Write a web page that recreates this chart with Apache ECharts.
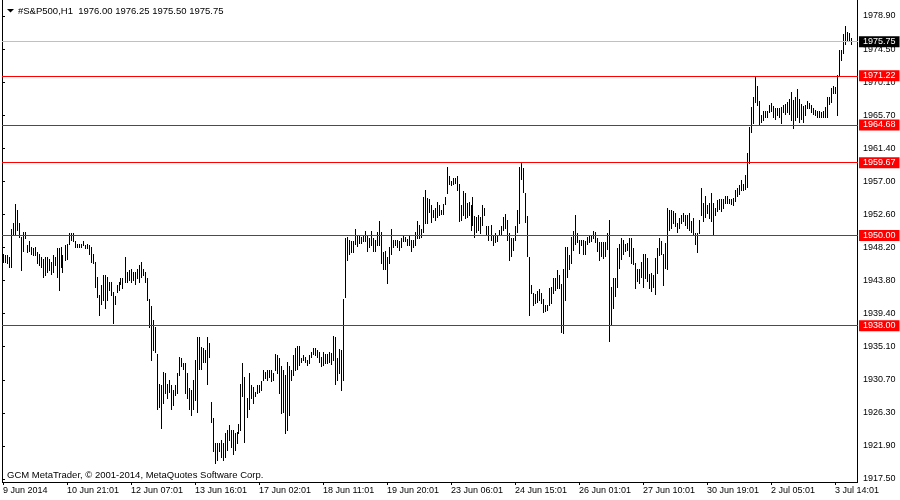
<!DOCTYPE html>
<html>
<head>
<meta charset="utf-8">
<script src="https://cdn.jsdelivr.net/npm/echarts@6/dist/echarts.min.js"></script>
<style>
html,body{margin:0;padding:0;background:#fff;}
#chart{width:900px;height:500px;}
</style>
</head>
<body>
<div id="chart"></div>
<script>
// ---- data ----
const symbolName = '#S&P500,H1';
const lastBarOHLC = [1976.00, 1976.25, 1975.50, 1975.75];
const footerText = 'GCM MetaTrader, \u00A9 2001-2014, MetaQuotes Software Corp.';
const xTickLabels = ['9 Jun 2014','10 Jun 21:01','12 Jun 07:01','13 Jun 16:01','17 Jun 02:01','18 Jun 11:01','19 Jun 20:01','23 Jun 06:01','24 Jun 15:01','26 Jun 01:01','27 Jun 10:01','30 Jun 19:01','2 Jul 05:01','3 Jul 14:01'];
const barsPerTickLabel = 32;
const yTickLabels = ['1917.50','1921.90','1926.30','1930.70','1935.10','1939.40','1943.80','1948.20','1952.60','1957.00','1961.40','1965.70','1970.10','1974.50','1978.90'];
const levelLines = [1971.22, 1964.68, 1959.67, 1950.00, 1938.00];
const bidLine = 1975.75;

const highs = [
1947.6,1947.4,1947.4,1947.2,1950.9,1951.6,1954.2,1953.4,1951.6,1949.8,
1950.5,1950.5,1948.7,1949.2,1948.5,1948.3,1948.5,1947.8,1947.6,1947.2,
1946.9,1947.2,1947.2,1946.9,1946.5,1947.4,1947.2,1948.3,1948.3,1948.5,
1947.4,1948.7,1948.9,1950.3,1950.3,1950.3,1949.2,1948.9,1948.9,1948.9,
1949.2,1948.7,1948.9,1948.7,1948.5,1947.6,1946.5,1944.5,1942.1,1943.4,
1944.7,1944.7,1944.5,1943.8,1943.8,1942.5,1941.9,1943.4,1943.8,1944.3,
1944.3,1947.2,1945.2,1945.4,1945.6,1945.2,1945.2,1945.6,1946.1,1946.5,
1945.6,1945.2,1944.3,1941.6,1940.6,1938.8,1937.9,1934.3,1930.3,1930.1,
1931.9,1931.7,1930.3,1930.8,1930.1,1929.5,1930.1,1931.7,1933.9,1933.7,
1933.0,1933.0,1931.7,1929.7,1929.5,1930.8,1933.4,1936.5,1936.5,1935.2,
1935.0,1934.8,1936.5,1935.7,1927.9,1925.7,1922.4,1922.4,1922.4,1922.8,
1922.4,1923.7,1924.1,1924.8,1924.1,1924.1,1923.7,1923.9,1925.0,1930.3,
1933.0,1931.2,1928.4,1931.7,1930.1,1929.9,1929.2,1930.1,1930.1,1930.6,
1932.1,1931.9,1932.1,1932.1,1932.1,1931.7,1934.3,1934.1,1933.7,1932.6,
1932.1,1931.4,1933.2,1932.6,1932.1,1934.1,1935.0,1935.3,1935.3,1933.7,
1934.1,1933.9,1933.4,1934.1,1934.5,1935.0,1935.0,1934.8,1934.5,1933.9,
1934.5,1934.3,1934.3,1934.5,1934.4,1936.6,1936.5,1933.7,1934.9,1934.8,
1941.6,1949.6,1949.8,1949.4,1949.2,1949.2,1950.8,1950.0,1949.9,1949.8,
1950.0,1950.6,1950.0,1949.6,1950.6,1949.6,1949.4,1950.4,1951.9,1950.5,
1947.8,1948.0,1947.2,1948.4,1950.8,1949.4,1949.4,1949.4,1949.2,1949.6,
1949.9,1949.8,1949.5,1949.9,1949.4,1949.4,1950.4,1951.9,1951.4,1950.9,
1955.1,1956.1,1955.0,1954.8,1954.0,1953.4,1953.6,1954.5,1954.0,1953.4,
1954.2,1955.1,1959.1,1957.9,1957.3,1957.7,1957.7,1957.9,1956.8,1954.0,
1955.9,1955.6,1954.3,1954.5,1954.0,1955.1,1952.6,1952.5,1952.7,1952.5,
1954.1,1953.7,1951.2,1951.3,1951.4,1950.1,1950.3,1950.0,1950.7,1951.2,
1952.5,1952.8,1952.0,1950.3,1949.7,1949.6,1951.2,1953.4,1959.1,1959.7,
1958.9,1955.7,1952.6,1947.2,1943.4,1942.4,1942.2,1942.6,1942.9,1942.4,
1941.5,1940.8,1940.8,1943.0,1943.2,1944.3,1944.3,1945.4,1944.8,1943.6,
1945.6,1948.4,1948.5,1947.4,1949.8,1950.6,1952.7,1950.3,1949.4,1949.4,
1949.4,1949.2,1949.8,1950.0,1950.0,1950.6,1950.4,1949.6,1949.1,1949.1,
1949.1,1949.1,1950.3,1952.1,1943.2,1944.4,1944.3,1948.3,1948.8,1949.6,
1949.4,1948.8,1949.0,1949.6,1949.6,1948.3,1946.3,1945.6,1945.6,1946.5,
1947.6,1947.6,1947.0,1944.9,1945.0,1944.7,1947.0,1948.3,1949.6,1949.2,
1947.6,1949.0,1953.6,1953.4,1953.4,1953.2,1953.0,1951.6,1952.3,1952.7,
1953.0,1952.7,1952.7,1953.0,1951.9,1952.3,1950.3,1950.3,1952.1,1956.3,
1954.3,1955.2,1954.1,1954.3,1955.6,1954.3,1953.7,1954.7,1954.9,1954.9,
1954.9,1955.2,1955.2,1954.9,1954.9,1955.0,1956.1,1956.3,1956.7,1957.4,
1956.9,1958.0,1960.9,1964.4,1967.1,1968.4,1971.2,1969.8,1967.9,1966.0,
1966.6,1966.5,1966.6,1967.3,1967.6,1967.2,1966.9,1967.0,1967.0,1967.1,
1967.3,1967.5,1967.7,1968.2,1969.1,1968.0,1968.4,1969.5,1968.2,1967.5,
1967.2,1967.3,1967.9,1967.6,1967.3,1967.0,1966.7,1966.6,1966.5,1966.4,
1966.6,1967.1,1968.4,1968.4,1969.6,1969.8,1969.7,1971.3,1974.6,1974.7,
1976.8,1977.8,1977.0,1976.9,1976.25
];
const lows = [
1946.5,1946.5,1946.3,1945.8,1945.8,1950.0,1950.0,1950.7,1949.8,1945.4,
1948.0,1949.6,1947.8,1948.0,1947.6,1947.4,1947.4,1946.3,1946.1,1945.8,
1944.5,1944.7,1945.2,1945.4,1944.9,1945.2,1946.1,1944.5,1942.7,1945.8,
1945.2,1946.7,1946.9,1948.9,1949.4,1949.2,1948.5,1948.5,1948.5,1948.5,
1948.7,1948.3,1948.3,1947.6,1946.5,1946.3,1943.2,1941.8,1939.4,1940.9,
1941.4,1940.3,1941.4,1942.7,1942.1,1938.3,1940.9,1942.5,1942.7,1943.6,
1943.0,1943.8,1943.8,1944.1,1943.8,1944.1,1943.6,1944.3,1943.8,1944.5,
1944.7,1943.8,1941.4,1937.9,1933.5,1934.8,1934.5,1927.0,1927.2,1924.4,
1927.7,1929.0,1928.4,1929.2,1927.0,1927.5,1928.8,1929.0,1931.5,1932.6,
1932.3,1929.0,1928.4,1927.0,1926.1,1927.0,1928.1,1926.6,1932.3,1932.3,
1933.2,1933.2,1930.3,1933.9,1925.2,1921.3,1919.7,1920.2,1921.3,1920.6,
1920.2,1920.6,1921.5,1922.8,1921.9,1921.0,1921.5,1922.4,1923.7,1924.1,
1928.6,1922.6,1925.9,1927.0,1928.4,1927.7,1928.6,1929.0,1929.2,1929.5,
1930.8,1931.0,1930.8,1931.2,1930.6,1930.8,1932.1,1931.7,1929.0,1926.4,
1926.6,1923.7,1924.1,1926.1,1930.8,1931.5,1932.1,1932.3,1932.8,1933.2,
1933.4,1933.2,1932.8,1933.0,1933.9,1934.3,1934.1,1933.9,1933.2,1932.6,
1932.8,1933.0,1933.0,1933.2,1932.9,1933.4,1930.3,1930.8,1931.7,1929.5,
1930.8,1941.8,1946.7,1947.6,1947.8,1947.8,1948.9,1948.6,1949.0,1949.0,
1949.2,1949.2,1948.0,1948.5,1948.7,1948.0,1948.0,1948.7,1948.7,1946.3,
1945.6,1945.6,1943.7,1946.3,1947.6,1948.4,1948.7,1948.5,1948.1,1948.4,
1949.2,1949.2,1948.7,1948.7,1948.0,1948.5,1948.7,1949.7,1949.7,1949.8,
1950.5,1951.6,1951.6,1953.1,1951.8,1952.4,1952.1,1952.5,1952.7,1952.8,
1952.9,1954.2,1955.6,1956.8,1956.7,1956.9,1957.0,1956.0,1951.9,1952.0,
1952.7,1952.3,1952.5,1952.7,1950.7,1951.4,1949.8,1950.5,1950.7,1950.3,
1951.4,1952.7,1950.0,1949.4,1949.4,1948.7,1949.1,1949.2,1950.0,1950.1,
1950.7,1951.0,1949.4,1946.7,1947.3,1948.1,1949.4,1950.4,1951.6,1957.5,
1955.8,1951.8,1947.3,1939.4,1942.3,1940.8,1941.0,1941.2,1941.4,1941.0,
1939.8,1939.9,1940.1,1940.8,1941.0,1942.3,1942.7,1943.0,1943.0,1937.2,
1937.1,1941.4,1944.5,1945.6,1946.3,1948.1,1948.9,1949.1,1947.7,1948.7,
1947.6,1947.6,1948.9,1949.1,1949.2,1949.6,1949.1,1947.9,1946.8,1947.3,
1947.0,1947.3,1948.2,1936.0,1938.2,1940.3,1941.9,1943.2,1945.7,1946.9,
1947.6,1947.9,1948.1,1947.3,1946.3,1946.2,1943.0,1944.0,1943.7,1944.5,
1943.1,1944.3,1943.9,1943.0,1942.6,1943.2,1942.2,1945.0,1947.4,1947.5,
1943.4,1945.7,1945.6,1950.7,1951.0,1951.6,1951.2,1950.5,1951.0,1951.6,
1951.9,1951.4,1951.0,1950.7,1950.5,1950.1,1948.8,1947.8,1950.3,1952.7,
1951.9,1952.5,1953.0,1952.3,1951.9,1950.0,1952.7,1953.2,1953.5,1953.3,
1953.6,1954.3,1954.3,1954.3,1954.2,1954.1,1954.6,1955.2,1955.5,1956.1,
1956.0,1956.2,1956.5,1959.6,1963.8,1964.9,1967.7,1967.3,1964.8,1965.1,
1965.4,1965.7,1965.7,1966.4,1966.5,1965.7,1965.5,1966.0,1965.7,1964.9,
1966.4,1966.2,1966.4,1966.2,1965.3,1964.3,1965.4,1965.7,1965.1,1965.5,
1965.1,1966.0,1967.0,1966.9,1966.4,1966.2,1966.0,1965.7,1965.7,1965.7,
1965.8,1965.8,1965.7,1967.5,1967.7,1968.9,1968.9,1966.0,1971.3,1973.3,
1974.2,1975.5,1975.9,1975.8,1975.50
];
// bar slots on the time axis (includes the empty right shift of the chart)
const slotCount = 428;
const categories = Array.from({length: slotCount}, (_, i) => String(i));

// ---- chart ----
const FONT = "'Liberation Sans', Arial, sans-serif";
const chart = echarts.init(document.getElementById('chart'), null, {renderer: 'canvas'});
const showTick = (i) => i % barsPerTickLabel === 0 && i / barsPerTickLabel < xTickLabels.length;

const barData = lows.map((lo, i) => [i, lo, highs[i]]);

const lvlLabel = (bg) => ({
  show: true, position: 'end', distance: 1,
  formatter: (p) => Number(p.value).toFixed(2),
  color: '#fff', backgroundColor: bg, fontFamily: FONT, fontSize: 9,
  lineHeight: 10, padding: [1, 4, 0, 4]
});

const option = {
  animation: false,
  backgroundColor: '#ffffff',
  grid: [
    {left: 2, top: 18, width: 856, height: 462, containLabel: false},
    {left: 2, top: 16, width: 856, height: 463, containLabel: false}
  ],
  xAxis: [
    {
      type: 'category', gridIndex: 0, data: categories, boundaryGap: true, offset: 2,
      axisLine: {show: false},
      axisTick: {show: true, alignWithLabel: true, interval: showTick, length: 3, lineStyle: {color: '#000', width: 1}},
      axisLabel: {
        interval: showTick, align: 'left', margin: 4, fontSize: 9, fontFamily: FONT, color: '#000',
        formatter: (v, i) => xTickLabels[i / barsPerTickLabel] || ''
      },
      splitLine: {show: false}
    },
    {type: 'value', gridIndex: 1, min: 0, max: 1, show: false}
  ],
  yAxis: [
    {type: 'value', gridIndex: 0, min: 1917.5, max: 1978.9, show: false, splitLine: {show: false}},
    {
      type: 'value', gridIndex: 1, min: 0, max: yTickLabels.length - 1, interval: 1, position: 'right',
      axisLine: {show: false},
      axisTick: {show: true, length: 3, lineStyle: {color: '#000', width: 1}},
      axisLabel: {margin: 5, fontSize: 9, fontFamily: FONT, color: '#000', formatter: (v) => yTickLabels[Math.round(v)] || ''},
      splitLine: {show: false}
    }
  ],
  series: [
    {
      type: 'custom', xAxisIndex: 0, yAxisIndex: 0, data: barData,
      encode: {x: 0, y: [1, 2]},
      silent: true, clip: false,
      renderItem: function (params, api) {
        const p1 = api.coord([api.value(0), api.value(1)]);
        const p2 = api.coord([api.value(0), api.value(2)]);
        const x = Math.floor(p1[0]);
        const yTop = Math.round(p2[1]);
        const yBot = Math.round(p1[1]);
        return {type: 'rect', shape: {x: x, y: yTop, width: 1, height: Math.max(1, yBot - yTop + 1)}, style: {fill: '#000'}};
      },
      markLine: {
        silent: true, symbol: ['none', 'none'], animation: false,
        data: [
          ...levelLines.map(v => ({yAxis: v, lineStyle: {color: '#ff0000', width: 1, type: 'solid'}, label: lvlLabel('#ff0000')})),
          {yAxis: bidLine, lineStyle: {color: '#c0c0c0', width: 1, type: 'solid'}, label: lvlLabel('#000000')}
        ]
      }
    }
  ],
  graphic: [
    {type: 'line', silent: true, shape: {x1: 2.5, y1: 0, x2: 2.5, y2: 482.5}, style: {stroke: '#000', lineWidth: 1}},
    {type: 'line', silent: true, shape: {x1: 2, y1: 482.5, x2: 858, y2: 482.5}, style: {stroke: '#000', lineWidth: 1}},
    {type: 'line', silent: true, shape: {x1: 857.5, y1: 0, x2: 857.5, y2: 483}, style: {stroke: '#000', lineWidth: 1}},
    {type: 'polygon', silent: true, shape: {points: [[7, 9], [14, 9], [10.5, 12.5]]}, style: {fill: '#000'}},
    {type: 'text', silent: true, x: 18, y: 11, style: {
      text: symbolName + '  ' + lastBarOHLC.map(v => v.toFixed(2)).join(' '),
      fontFamily: FONT, fontSize: 9.5, fill: '#000', verticalAlign: 'middle', align: 'left'}},
    {type: 'text', silent: true, x: 7, y: 475, style: {
      text: footerText, fontFamily: FONT, fontSize: 9.5, fill: '#000', verticalAlign: 'middle', align: 'left'}}
  ]
};
chart.setOption(option);
</script>
</body>
</html>
